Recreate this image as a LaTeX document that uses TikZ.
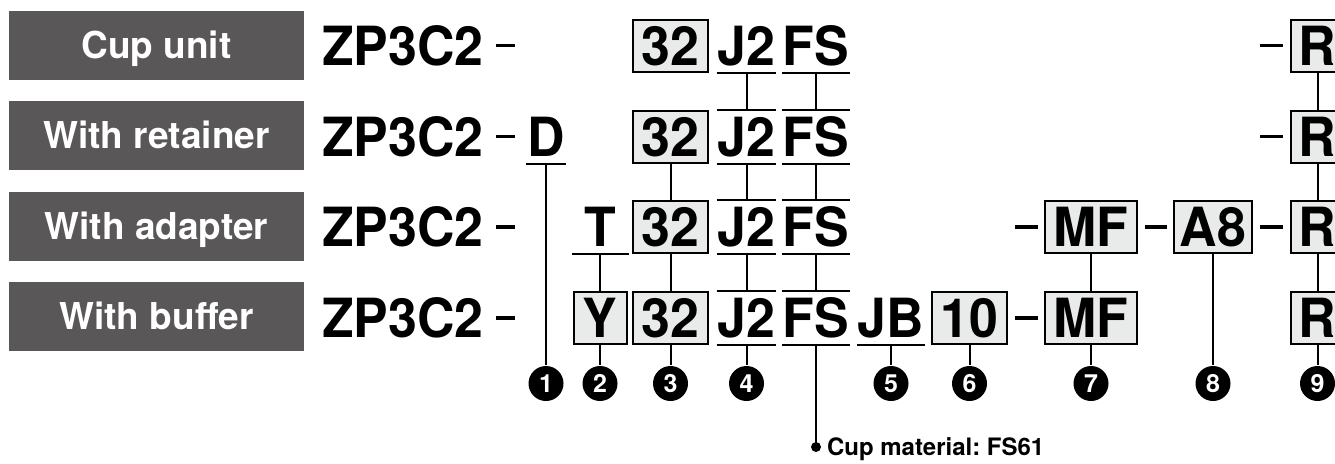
\documentclass[tikz,border=0pt]{standalone}
\usepackage{fontspec}
\setmainfont{TeX Gyre Heros}
\usepackage{graphicx}
\definecolor{labelgray}{HTML}{5A5758}
\definecolor{boxfill}{HTML}{E9EAEA}
\newcommand{\sq}[1]{\scalebox{0.96}[1]{#1}}
\frenchspacing
\begin{document}
\begin{tikzpicture}[x=1pt,y=-1pt,line width=2pt,
  lab/.style={fill=labelgray,text=white,minimum width=295,minimum height=69,inner sep=0,
    font=\fontsize{37}{37}\selectfont\bfseries,text height=26.5,text depth=0},
  pn/.style={inner sep=0,text height=39,text depth=0,font=\fontsize{54}{54}\selectfont\bfseries},
  code/.style={inner sep=0,text height=39,text depth=0,minimum height=52,
    font=\fontsize{54}{54}\selectfont\bfseries},
  boxed/.style={code,draw,fill=boxfill},
  num/.style={circle,fill=black,text=white,minimum size=35,inner sep=0,
    font=\fontsize{25}{25}\selectfont\bfseries},
  dashl/.style={line width=3.2pt},
  note/.style={inner sep=0,anchor=west,text height=17.2,text depth=0,
    font=\fontsize{24}{24}\selectfont\bfseries},
  dotn/.style={circle,fill=black,minimum size=10,inner sep=0}]
\useasboundingbox (0,0) rectangle (1335,463);
\clip (0,0) rectangle (1335,463);
% left labels
\node[lab] (l1) at (156.5,45.5) {Cup unit};
\node[lab] (l2) at (156.5,135.5) {With retainer};
\node[lab] (l3) at (156.5,226.5) {With adapter};
\node[lab] (l4) at (156.5,316.5) {With buffer};
% part number prefixes
\node[pn,anchor=west] (p1) at (321,45.5) {\sq{ZP3C2}};
\node[pn,anchor=west] (p2) at (321,136.5) {\sq{ZP3C2}};
\node[pn,anchor=west] (p3) at (321,227) {\sq{ZP3C2}};
\node[pn,anchor=west] (p4) at (321,318) {\sq{ZP3C2}};
\foreach \y in {45.5,136.5,227,318}{\draw[dashl] (496,\y) -- (515,\y);}
% row 1
\node[boxed,minimum width=75] (b1) at (670.5,45.5) {\sq{32}};
\node[code] (j1) at (746.5,45.5) {\sq{J2}};
\node[code] (f1) at (816,45.5) {\sq{FS}};
\draw[dashl] (1260,45.5) -- (1283,45.5);
\node[boxed,minimum width=54] (r1) at (1317.5,45.5) {\sq{R}};
% row 2
\node[code] (d) at (546,136.5) {\sq{D}};
\node[boxed,minimum width=75] (b2) at (670.5,136.5) {\sq{32}};
\node[code] (j2) at (746.5,136.5) {\sq{J2}};
\node[code] (f2) at (816,136.5) {\sq{FS}};
\draw[dashl] (1260,136.5) -- (1283,136.5);
\node[boxed,minimum width=54] (r2) at (1317.5,136.5) {\sq{R}};
% row 3
\node[code,minimum width=55] (t) at (600,227) {\sq{T}};
\node[boxed,minimum width=75] (b3) at (670.5,227) {\sq{32}};
\node[code] (j3) at (746.5,227) {\sq{J2}};
\node[code] (f3) at (816,227) {\sq{FS}};
\draw[dashl] (1015,227) -- (1038,227);
\node[boxed,minimum width=92] (m3) at (1091,227) {\sq{MF}};
\draw[dashl] (1145,227) -- (1167,227);
\node[boxed,minimum width=78] (a8) at (1213,227) {\sq{A8}};
\draw[dashl] (1260,227) -- (1283,227);
\node[boxed,minimum width=54] (r3) at (1317.5,227) {\sq{R}};
% row 4
\node[boxed,minimum width=53] (y) at (600,318) {\sq{Y}};
\node[boxed,minimum width=75] (b4) at (670.5,318) {\sq{32}};
\node[code] (j4) at (746.5,318) {\sq{J2}};
\node[code] (f4) at (816,318) {\sq{FS}};
\node[code] (jb) at (891,318) {\sq{JB}};
\node[boxed,minimum width=75] (ten) at (969.5,318) {\sq{10}};
\draw[dashl] (1015,318) -- (1038,318);
\node[boxed,minimum width=92] (m4) at (1091,318) {\sq{MF}};
\node[boxed,minimum width=54] (r4) at (1317.5,318) {\sq{R}};
% underlines and overlines
\foreach \n in {j1,f1,d,j2,f2,t,j3,f3,j4,f4,jb}{\draw (\n.south west) -- (\n.south east);}
\foreach \n in {j2,f2,j3,f3,j4,f4}{\draw (\n.north west) -- (\n.north east);}
% circled numbers
\node[num] (c1) at (546,383.5) {1};
\node[num] (c2) at (600,383.5) {2};
\node[num] (c3) at (670.5,383.5) {3};
\node[num] (c4) at (746.5,383.5) {4};
\node[num] (c5) at (891,383.5) {5};
\node[num] (c6) at (969.5,383.5) {6};
\node[num] (c7) at (1091,383.5) {7};
\node[num] (c8) at (1213,383.5) {8};
\node[num] (c9) at (1317.5,383.5) {9};
\node[dotn] (dot) at (816,447) {};
\node[note] (cm) at (826,447) {Cup material: FS61};
% connectors
\draw (j1.south) -- (j2.north) (j2.south) -- (j3.north) (j3.south) -- (j4.north) (j4.south) -- (c4.north);
\draw (f1.south) -- (f2.north) (f2.south) -- (f3.north) (f3.south) -- (f4.north) (f4.south) -- (dot.center);
\draw (b2.south) -- (b3.north) (b3.south) -- (b4.north) (b4.south) -- (c3.north);
\draw (d.south) -- (c1.north);
\draw (t.south) -- (y.north) (y.south) -- (c2.north);
\draw (jb.south) -- (c5.north);
\draw (ten.south) -- (c6.north);
\draw (m3.south) -- (m4.north) (m4.south) -- (c7.north);
\draw (a8.south) -- (c8.north);
\draw (r1.south) -- (r2.north) (r2.south) -- (r3.north) (r3.south) -- (r4.north) (r4.south) -- (c9.north);
\end{tikzpicture}
\end{document}
